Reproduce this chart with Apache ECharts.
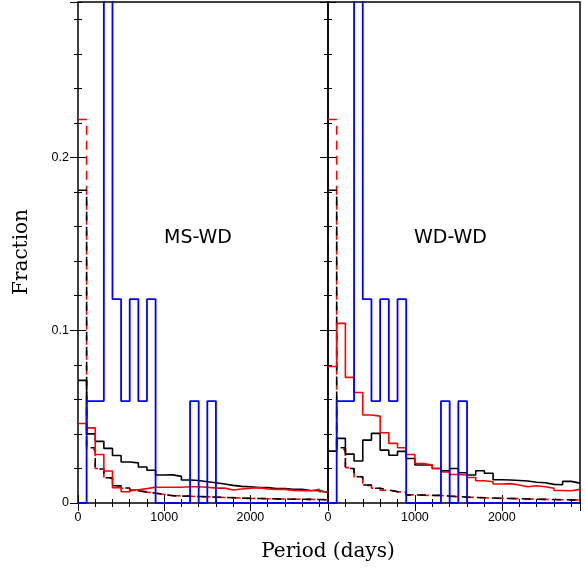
<!DOCTYPE html>
<html>
<head>
<meta charset="utf-8">
<script src="https://cdn.jsdelivr.net/npm/echarts@6/dist/echarts.min.js"></script>
<style>html,body{margin:0;padding:0;background:#fff;}#c{width:585px;height:569px;}</style>
</head>
<body>
<div id="c"></div>
<script>
// Period bins (days): start of each 100-day bin, and final edge
const binStarts = [0,100,200,300,400,500,600,700,800,900,1000,1100,1200,1300,1400,1500,1600,1700,1800,1900,2000,2100,2200,2300,2400,2500,2600,2700,2800];
const lastEdge = 2900;

// x tick labels / y tick labels
const xTickLabels = [0, 1000, 2000];
const yTickLabels = [0, 0.1, 0.2];

// Observed sample (blue), same in both panels
const blueObs = [0,0.059,0.059,0.294,0.118,0.059,0.118,0.059,0.118,0,0,0,0,0.059,0,0.059,0,0,0,0,0,0,0,0,0,0,0,0,0];

// MS-WD panel
const msBlackSolid = [0.071,0.040,0.0357,0.0316,0.0275,0.0237,0.0232,0.0208,0.019,0.0162,0.0163,0.0154,0.0133,0.013,0.0123,0.0117,0.011,0.0102,0.0096,0.0094,0.0089,0.0089,0.0084,0.0083,0.008,0.008,0.0072,0.0071,0.0062];
const msRedSolid   = [0.046,0.0435,0.0281,0.0185,0.0088,0.0065,0.0077,0.0083,0.0091,0.0091,0.0091,0.0091,0.0094,0.0094,0.0091,0.0086,0.0086,0.0075,0.0081,0.0085,0.0089,0.0081,0.0079,0.0079,0.0073,0.0071,0.0071,0.008,0.0065];
const msBlackDash  = [0.181,0.032,0.0197,0.0146,0.0100,0.0087,0.0071,0.0064,0.0056,0.0050,0.0042,0.0040,0.0040,0.0038,0.0036,0.0034,0.0033,0.0030,0.0028,0.0027,0.0026,0.0025,0.0024,0.0023,0.0022,0.0022,0.0021,0.0020,0.0019];
const msRedDash    = [0.222,0.031,0.0200,0.0143,0.0098,0.0085,0.0072,0.0063,0.0057,0.0049,0.0043,0.0041,0.0039,0.0037,0.0036,0.0034,0.0032,0.0031,0.0029,0.0027,0.0026,0.0025,0.0024,0.0023,0.0023,0.0021,0.0021,0.0020,0.0019];

// WD-WD panel
const wdBlackSolid = [0.030,0.0374,0.0283,0.0243,0.0364,0.0403,0.0306,0.0276,0.0299,0.0258,0.022,0.022,0.020,0.0187,0.020,0.0175,0.0162,0.0187,0.0172,0.0135,0.0133,0.0130,0.0127,0.0120,0.0117,0.0108,0.0106,0.0125,0.0115];
const wdRedSolid   = [0.079,0.104,0.0727,0.064,0.0509,0.0503,0.0407,0.0345,0.032,0.0281,0.0229,0.022,0.020,0.018,0.0165,0.0162,0.0148,0.0129,0.0123,0.011,0.0112,0.0104,0.0094,0.0100,0.0094,0.0085,0.0072,0.0071,0.0079];
const wdBlackDash  = [0.181,0.032,0.020,0.0152,0.0104,0.0085,0.0075,0.0065,0.0062,0.0046,0.0046,0.0044,0.0044,0.0040,0.0037,0.0034,0.0032,0.0030,0.0029,0.0027,0.0026,0.0025,0.0023,0.0022,0.0021,0.0020,0.0019,0.0018,0.0016];
const wdRedDash    = [0.222,0.031,0.0205,0.0150,0.0102,0.0086,0.0074,0.0066,0.0060,0.0047,0.0045,0.0043,0.0043,0.0039,0.0037,0.0034,0.0032,0.0030,0.0028,0.0027,0.0026,0.0025,0.0023,0.0022,0.0021,0.0020,0.0019,0.0018,0.0017];

const panelNames = ['MS-WD', 'WD-WD'];

function stepData(vals) {
  const d = binStarts.map((x, i) => [x, vals[i]]);
  d.push([lastEdge, vals[vals.length - 1]]);
  return d;
}

const chart = echarts.init(document.getElementById('c'), null, {renderer: 'canvas'});

const grids = [
  {left: 78, top: 2, width: 250, height: 501, show: true, borderColor: '#000', borderWidth: 1.5, backgroundColor: 'transparent'},
  {left: 328, top: 2, width: 252, height: 501, show: true, borderColor: '#000', borderWidth: 1.5, backgroundColor: 'transparent'}
];

const xAxes = [], yAxes = [];
const labelFont = {fontFamily: 'Liberation Sans', fontSize: 12.5, fontWeight: 'normal', color: '#000'};
for (let g = 0; g < 2; g++) {
  ['bottom', 'top'].forEach(pos => {
    [[1000, 8, pos === 'bottom'], [200, 4, false]].forEach(([iv, len, lab]) => {
      xAxes.push({
        type: 'value', gridIndex: g, position: pos, min: 0, max: lastEdge, interval: iv,
        axisLine: {show: false}, splitLine: {show: false},
        axisTick: {show: true, inside: true, length: len, lineStyle: {color: '#000', width: 1}},
        axisLabel: Object.assign({show: lab, margin: 8, showMaxLabel: false, showMinLabel: true,
          formatter: v => xTickLabels.indexOf(v) >= 0 ? String(v) : ''}, labelFont)
      });
    });
  });
  ['left', 'right'].forEach(pos => {
    [[0.1, 8, pos === 'left' && g === 0], [0.02, 4, false]].forEach(([iv, len, lab]) => {
      yAxes.push({
        type: 'value', gridIndex: g, position: pos, min: 0, max: 0.29, interval: iv,
        axisLine: {show: false}, splitLine: {show: false},
        axisTick: {show: true, inside: true, length: len, lineStyle: {color: '#000', width: 1}},
        axisLabel: Object.assign({show: lab, margin: 9, showMaxLabel: false,
          formatter: v => { const m = yTickLabels.find(t => Math.abs(t - v) < 1e-9); return m === undefined ? '' : String(m); }}, labelFont)
      });
    });
  });
}

const series = [];
const panelData = [
  {bs: msBlackSolid, rs: msRedSolid, bd: msBlackDash, rd: msRedDash},
  {bs: wdBlackSolid, rs: wdRedSolid, bd: wdBlackDash, rd: wdRedDash}
];
for (let g = 0; g < 2; g++) {
  const p = panelData[g];
  const base = {type: 'line', step: 'end', symbol: 'none', xAxisIndex: g * 4, yAxisIndex: g * 4, clip: true, animation: false, silent: true};
  series.push(Object.assign({}, base, {name: 'redDash' + g, data: stepData(p.rd), lineStyle: {color: '#ff0000', width: 1.6, type: [9, 6]}, z: 2}));
  series.push(Object.assign({}, base, {name: 'blackDash' + g, data: stepData(p.bd), lineStyle: {color: '#000', width: 1.6, type: [9, 6]}, z: 3}));
  series.push(Object.assign({}, base, {name: 'blackSolid' + g, data: stepData(p.bs), lineStyle: {color: '#000', width: 1.6}, z: 4}));
  series.push(Object.assign({}, base, {name: 'redSolid' + g, data: stepData(p.rs), lineStyle: {color: '#ff0000', width: 1.6}, z: 5}));
  series.push(Object.assign({}, base, {name: 'blue' + g, data: stepData(blueObs), lineStyle: {color: '#0000ff', width: 1.8}, z: 6}));
}

chart.setOption({
  backgroundColor: '#fff',
  animation: false,
  grid: grids,
  xAxis: xAxes,
  yAxis: yAxes,
  series: series,
  graphic: [
    {type: 'text', left: 164, top: 229, style: {text: panelNames[0], font: '19px "DejaVu Sans"', fill: '#000'}},
    {type: 'text', left: 414, top: 229, style: {text: panelNames[1], font: '19px "DejaVu Sans"', fill: '#000'}},
    {type: 'text', x: 328, y: 552, style: {text: 'Period (days)', font: '20px "DejaVu Serif"', fill: '#000', align: 'center', verticalAlign: 'middle'}},
    {type: 'text', x: 22, y: 252, rotation: Math.PI / 2, style: {text: 'Fraction', font: '20px "DejaVu Serif"', fill: '#000', align: 'center', verticalAlign: 'middle'}}
  ]
});
</script>
</body>
</html>
